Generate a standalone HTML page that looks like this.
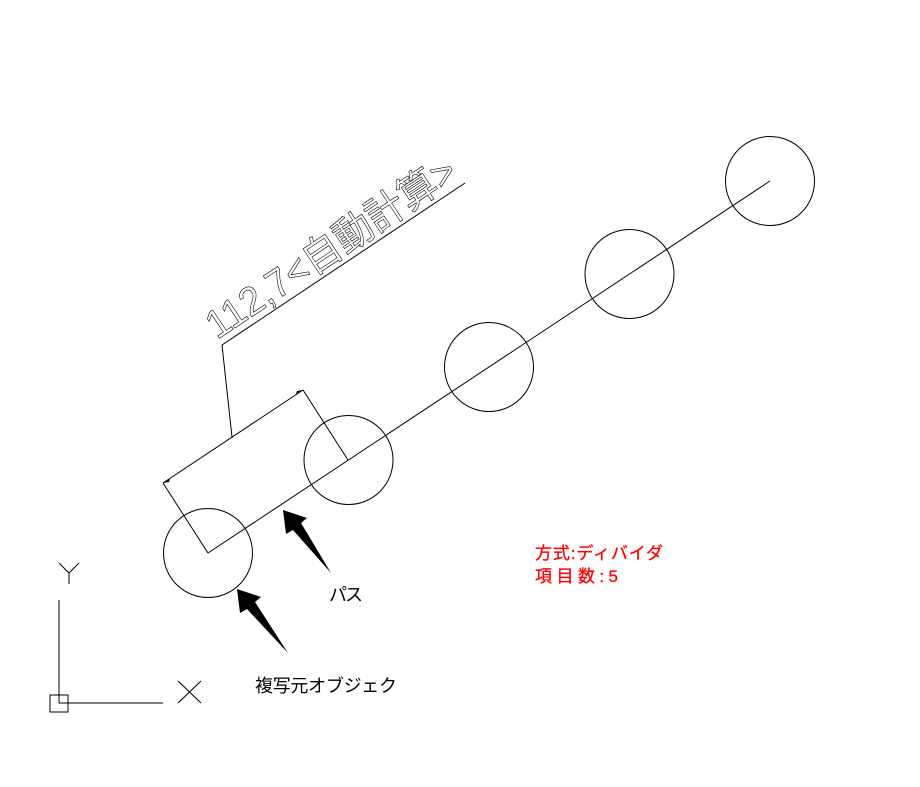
<!DOCTYPE html>
<html><head><meta charset="utf-8"><style>
html,body{margin:0;padding:0;background:#fff;}
svg{display:block}
</style></head><body>
<svg width="920" height="787" viewBox="0 0 920 787" xmlns="http://www.w3.org/2000/svg">
<g fill="none" stroke="#000" stroke-width="1">
<circle cx="208" cy="553" r="44.5"/>
<circle cx="348.5" cy="460" r="44.5"/>
<circle cx="489" cy="367" r="44.5"/>
<circle cx="629.5" cy="274" r="44.5"/>
<circle cx="770" cy="181" r="44.5"/>
<line x1="208" y1="553" x2="770" y2="181"/>
<line x1="208" y1="553" x2="163" y2="483"/>
<line x1="348" y1="460" x2="303" y2="390"/>
<line x1="163" y1="483" x2="303" y2="390"/>
<polyline points="232,437 222,345 465,183"/>
<line x1="59" y1="600" x2="59" y2="703"/>
<line x1="59" y1="703" x2="163" y2="703"/>
<rect x="50" y="695" width="18" height="17"/>
<polyline points="59,563 69,573 79,563"/>
<line x1="69" y1="573" x2="69" y2="584"/>
<line x1="178" y1="681" x2="201" y2="703"/>
<line x1="201" y1="681" x2="178" y2="703"/>
</g>
<g fill="#000">
<polygon points="163,483 170,479 169,482"/>
<polygon points="303,390 296,394 297,391"/>
<polygon points="283,510 286,534 293,530 331,573 301,523 307,518"/>
<polygon points="237,589 240,613 247,609 288,653 255,602 261,597"/>
</g>
<text transform="translate(217,340) rotate(-33.7)" font-family="Liberation Sans, Noto Sans CJK JP, sans-serif" font-size="40" fill="none" stroke="#000" stroke-width="0.6" textLength="292" lengthAdjust="spacingAndGlyphs">112,7&lt;自動計算&gt;</text>
<g font-family="Liberation Sans, Noto Sans CJK JP, sans-serif" font-size="18">
<text x="329" y="601" textLength="34">パス</text>
<text x="255" y="692" textLength="142">複写元オブジェク</text>
</g>
<g font-family="Liberation Sans, Noto Sans CJK JP, sans-serif" font-size="17" fill="#ff0000" stroke="#ff0000" stroke-width="0.3">
<text x="535" y="559" textLength="128">方式:ディバイダ</text>
<text x="535" y="582" textLength="83">項目数:5</text>
</g>
</svg>
</body></html>
